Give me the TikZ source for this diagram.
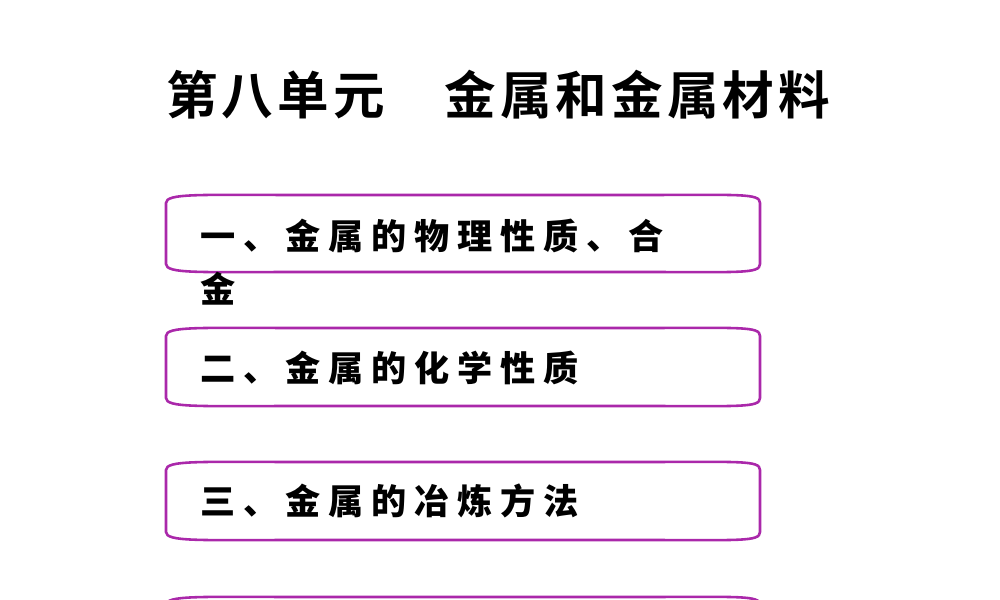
\documentclass[tikz,border=0pt]{standalone}
\usepackage{fontspec}
\newfontfamily\cjk{Noto Sans CJK SC}
\newfontfamily\cjkb{Noto Sans CJK SC Black}[LetterSpace=22]
\newfontfamily\cjkt{Noto Sans CJK SC Bold}[LetterSpace=8]
\definecolor{boxpurple}{RGB}{170,40,170}
\tikzset{itembox/.style={draw=boxpurple,line width=2.2pt,fill=white},
itemtext/.style={anchor=west,inner sep=0pt,font=\cjkb\fontsize{30pt}{34pt}\selectfont},
titletext/.style={anchor=west,inner sep=0pt,font=\cjkt\fontsize{44pt}{50pt}\selectfont}}
\newcommand{\curvedbox}[2]{% top y, bottom y
\path[itembox] (166,#1+8) .. controls (166,#1-2) and (200,#1) .. (300,#1)
 -- (640,#1) .. controls (740,#1) and (760,#1-2) .. (760,#1+8)
 -- (760,#2-8) .. controls (760,#2+2) and (740,#2) .. (640,#2)
 -- (300,#2) .. controls (200,#2) and (166,#2+2) .. (166,#2-8) -- cycle;}
\begin{document}
\begin{tikzpicture}[x=0.03cm,y=-0.03cm]
\useasboundingbox (0,0) rectangle (1000,600);
\node[titletext] (title) at (166,95) {第八单元　金属和金属材料};
\curvedbox{195}{272}
\curvedbox{328}{406}
\curvedbox{462}{540}
\curvedbox{597}{680}
\node[itemtext] (t1) at (200,236) {一、金属的物理性质、合};
\node[itemtext] (t1b) at (200,289) {金};
\node[itemtext] (t2) at (200,368) {二、金属的化学性质};
\node[itemtext] (t3) at (200,501) {三、金属的冶炼方法};
\end{tikzpicture}
\end{document}
